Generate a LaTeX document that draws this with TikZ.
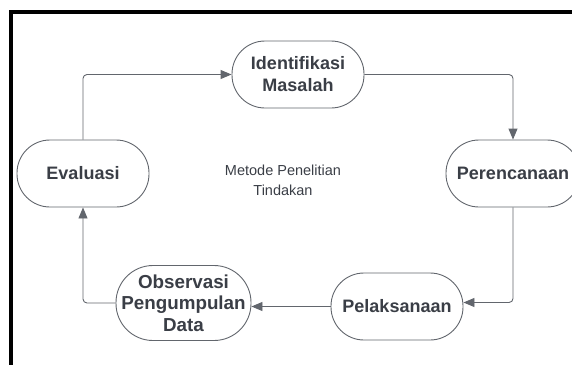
\documentclass[tikz,border=0pt]{standalone}
\usepackage{fontspec}
\setmainfont{Liberation Sans}
\usepackage{tikz}
\usetikzlibrary{shapes,arrows.meta,positioning}
\definecolor{txtgray}{HTML}{3A3E46}
\definecolor{linegray}{HTML}{62666D}
\tikzstyle{phase}=[rectangle, draw=linegray, line width=0.9pt, fill=white, rounded corners=33pt, minimum width=132pt, minimum height=67pt, inner sep=2pt, align=center, text=txtgray, font=\fontsize{18}{22}\selectfont\bfseries]
\tikzstyle{phase2}=[phase, rounded corners=37pt, minimum width=135pt, minimum height=75pt, font=\fontsize{18.8}{21.5}\selectfont\bfseries]
\tikzstyle{caption}=[align=center, text=txtgray, font=\fontsize{14.5}{20}\selectfont]
\tikzstyle{link}=[-{Triangle[length=11pt,width=9pt]}, draw=linegray, line width=0.9pt, rounded corners=4pt]

\begin{document}
\begin{tikzpicture}[x=1pt,y=-1pt]
\clip (0,0) rectangle (572,364);
%Frame
\draw[line width=4pt] (11,12) rectangle (620,420);
%Cycle
\node[phase] (iden) at (298,74.5){Identifikasi\\Masalah};
\node[phase,minimum width=134pt] (renc) at (513,173.5){Perencanaan};
\node[phase] (laks) at (397,306.5){Pelaksanaan};
\node[phase2] (obs) at (183.5,303){Observasi\\Pengumpulan\\Data};
\node[phase] (eval) at (83,173.5){Evaluasi};
%Center
\node[caption] (judul) at (283,180){Metode Penelitian\\Tindakan};
%Arrows
\draw[link] (eval.north) |- (iden.west);
\draw[link] (iden.east) -| (renc.north);
\draw[link] (renc.south) |- ([yshift=4pt]laks.east);
\draw[link] (laks.west) -- (laks.west -| obs.east);
\draw[link] (obs.west) -| (eval.south);
\end{tikzpicture}
\end{document}
